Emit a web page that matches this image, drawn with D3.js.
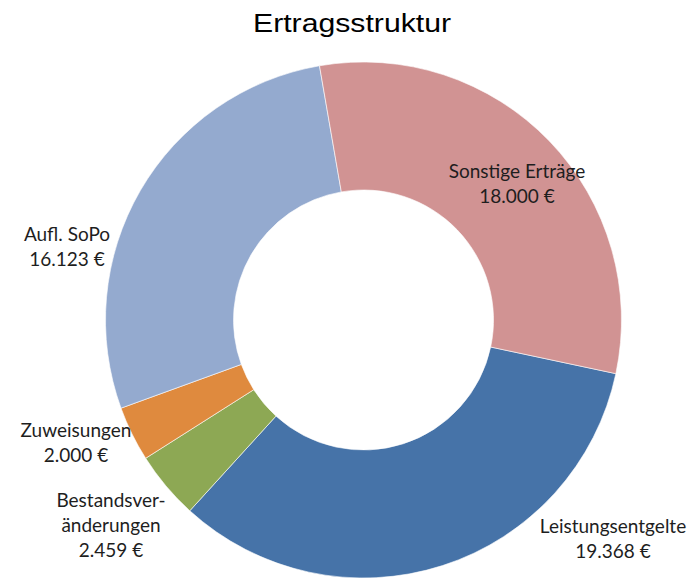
<!DOCTYPE html>
<html>
<head>
<meta charset="utf-8">
<script src="https://cdn.jsdelivr.net/npm/d3@7"></script>
<style>
  html, body { margin: 0; padding: 0; background: #fff; }
  svg { display: block; }
</style>
</head>
<body>
<svg id="chart" width="698" height="582"></svg>
<script>
// ---- data ----
const title = "Ertragsstruktur";
const categories = ["Leistungsentgelte", "Bestandsver-|änderungen", "Zuweisungen", "Aufl. SoPo", "Sonstige Erträge"];
const values = [19368, 2459, 2000, 16123, 18000];
const colors = ["#4673A8", "#8DA854", "#DF8A3E", "#94AACF", "#D19393"];

// ---- layout ----
const W = 698, H = 582;
const cx = 363.5, cy = 320;
const outerR = 258, innerR = 130;
const startDeg = 102;
// label anchor (center x, first-line baseline y) per category, same order
const labelLayout = [
  [613, 533],
  [111, 507],
  [76, 437],
  [67, 241],
  [517, 178]
];
const lineH = 25;

const svg = d3.select("#chart");

svg.append("text")
  .attr("transform", "translate(352,32) scale(1.14,1)")
  .attr("text-anchor", "middle")
  .attr("font-family", "'Liberation Sans', Arial, sans-serif")
  .attr("font-size", 26.5)
  .attr("fill", "#000")
  .text(title);

const data = categories.map((c, i) => ({ name: c, value: values[i], color: colors[i], i }));

const pie = d3.pie()
  .sort(null)
  .value(d => d.value)
  .startAngle(startDeg * Math.PI / 180)
  .endAngle((startDeg + 360) * Math.PI / 180);

const arc = d3.arc().innerRadius(innerR).outerRadius(outerR);

const g = svg.append("g").attr("transform", `translate(${cx},${cy})`);

g.selectAll("path")
  .data(pie(data))
  .join("path")
  .attr("d", arc)
  .attr("fill", d => d.data.color)
  .attr("stroke", "#ffffff")
  .attr("stroke-opacity", 0.6)
  .attr("stroke-width", 1);

const fmt = v => d3.format(",")(v).replace(/,/g, ".") + " €";

const labels = svg.append("g")
  .attr("font-family", "Lato, 'Open Sans', sans-serif")
  .attr("font-size", 19)
  .attr("fill", "#1e1e1e")
  .attr("text-anchor", "middle");

data.forEach((d, i) => {
  const lines = d.name.split("|").concat([fmt(d.value)]);
  const [lx, ly] = labelLayout[i];
  const t = labels.append("text").attr("x", lx).attr("y", ly);
  lines.forEach((ln, k) => {
    t.append("tspan").attr("x", lx).attr("y", ly + k * lineH).text(ln);
  });
});
</script>
</body>
</html>
